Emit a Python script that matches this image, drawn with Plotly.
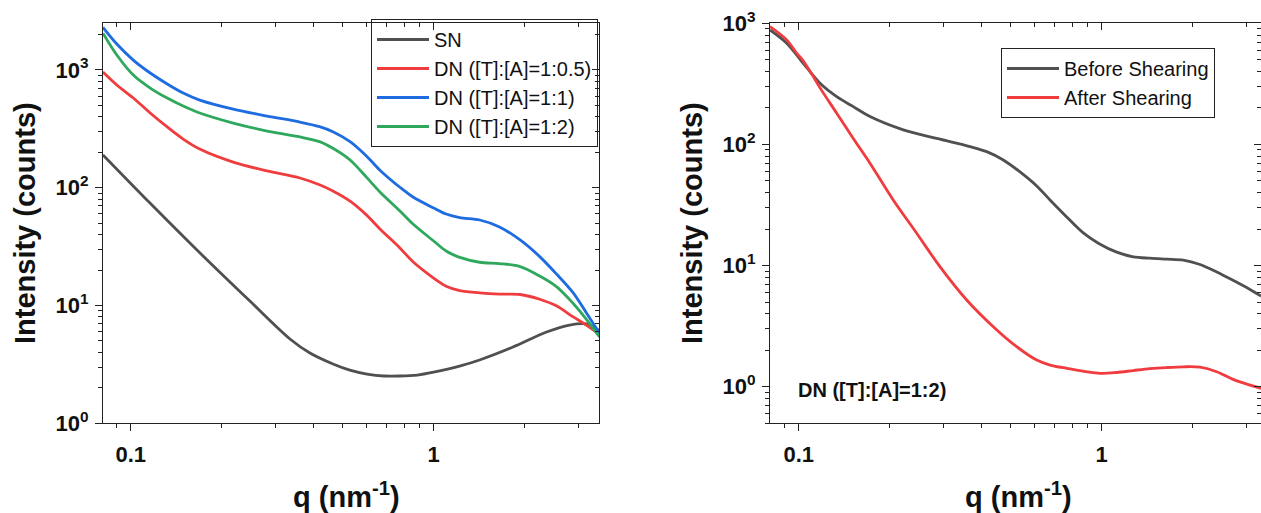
import plotly.graph_objects as go

# ---------------- data ----------------
# Left panel: q (nm^-1) and intensity (counts)
q_sn = [0.081, 0.1158, 0.1694, 0.2475, 0.3356, 0.3906, 0.4653, 0.529, 0.6025, 0.6855, 0.774, 0.8835, 1.0, 1.218, 1.418, 1.828, 2.36, 2.81, 3.2, 3.53]
i_sn = [190, 74.1, 27.9, 10.9, 5.2, 3.95, 3.19, 2.83, 2.62, 2.52, 2.52, 2.57, 2.72, 3.06, 3.45, 4.44, 5.96, 6.83, 6.97, 6.08]

q_dn = [0.081, 0.09, 0.102, 0.116, 0.132, 0.149, 0.169, 0.218, 0.282, 0.362, 0.42, 0.465, 0.53, 0.6, 0.665, 0.774, 0.855, 1.0, 1.1, 1.22, 1.42, 1.65, 1.93, 2.24, 2.55, 2.89, 3.2, 3.53]
i_dn05 = [960, 745, 578, 431, 328, 259, 213, 165, 139, 121, 106, 94, 77, 58.8, 44.7, 30.8, 23.5, 17.1, 14.6, 13.4, 12.8, 12.5, 12.4, 11.3, 9.9, 8.0, 6.8, 5.7]
i_dn1 = [2300, 1660, 1213, 942, 760, 637, 555, 465, 406, 361, 330, 299, 246, 186, 141, 101, 83.4, 67.3, 59.8, 55.8, 53.2, 46.5, 36, 26, 18.4, 12.8, 8.6, 5.8]
i_dn2 = [2050, 1339, 905, 702, 577, 494, 431, 354, 303, 270, 246, 216, 172, 123, 92, 63.5, 49.2, 35.3, 29, 25.6, 23.3, 22.7, 21.4, 17.8, 14.4, 10.4, 7.6, 5.4]

# Right panel
q_before = [0.0804, 0.0913, 0.1035, 0.1176, 0.1335, 0.1514, 0.1719, 0.2215, 0.2853, 0.3674, 0.4173, 0.4733, 0.5375, 0.6103, 0.6752, 0.7665, 0.8695, 0.9745, 1.121, 1.271, 1.443, 1.636, 1.859, 2.111, 2.396, 2.713, 3.086, 3.356]
i_before = [881, 685, 468, 320, 248, 205, 170, 132, 112, 96, 87.2, 74.5, 59.3, 45.4, 34.8, 25.2, 18.6, 15.3, 12.9, 11.8, 11.5, 11.3, 11.1, 10.2, 8.85, 7.55, 6.35, 5.6]

q_after = [0.0804, 0.0913, 0.0985, 0.1035, 0.1117, 0.1176, 0.1335, 0.1514, 0.1719, 0.2051, 0.2451, 0.2925, 0.3584, 0.4387, 0.5241, 0.6103, 0.6752, 0.7665, 0.987, 1.121, 1.271, 1.443, 1.636, 1.859, 2.111, 2.396, 2.713, 3.086, 3.356]
i_after = [940, 730, 566, 490, 363, 293, 181, 112, 70, 34.8, 18.5, 9.8, 5.2, 3.13, 2.14, 1.66, 1.51, 1.42, 1.29, 1.31, 1.36, 1.41, 1.44, 1.46, 1.45, 1.33, 1.15, 1.03, 0.97]

left_names = ["SN", "DN ([T]:[A]=1:0.5)", "DN ([T]:[A]=1:1)", "DN ([T]:[A]=1:2)"]
right_names = ["Before Shearing", "After Shearing"]

x_ticks = [0.1, 1]
x_ticktext = ["0.1", "1"]
y_ticks = [1, 10, 100, 1000]
y_ticktext = ["10<sup>0</sup>", "10<sup>1</sup>", "10<sup>2</sup>", "10<sup>3</sup>"]

# ---------------- style ----------------
GRAY = "#505050"
RED = "#F03C3E"
BLUE = "#1E6CE0"
GREEN = "#2EA85C"
AX = "#222222"
FONT = "Liberation Sans, Arial, sans-serif"

W, H = 1261, 513
def px(x):
    return x / W
def py(y):
    return 1 - y / H

LX = [px(103), px(599.3)]
RX = [px(770), 1.0]
YD = [py(423.3), py(23.3)]

minor_x = [k * 10 ** n for n in (-2, -1, 0) for k in range(2, 10)]
minor_y = [k * 10 ** n for n in (-1, 0, 1, 2, 3) for k in range(2, 10)]

fig = go.Figure()

def add(q, i, name, color, xa, ya, legend):
    fig.add_trace(go.Scatter(x=q, y=i, name=name, mode="lines",
                             line=dict(color=color, width=2.8, shape="spline", smoothing=0.9),
                             xaxis=xa, yaxis=ya, legend=legend))

add(q_sn, i_sn, left_names[0], GRAY, "x", "y", "legend")
add(q_dn, i_dn05, left_names[1], RED, "x", "y", "legend")
add(q_dn, i_dn1, left_names[2], BLUE, "x", "y", "legend")
add(q_dn, i_dn2, left_names[3], GREEN, "x", "y", "legend")
add(q_before, i_before, right_names[0], GRAY, "x2", "y2", "legend2")
add(q_after, i_after, right_names[1], RED, "x2", "y2", "legend2")

# dummy traces for the mirrored (inward-tick) frame axes
for xa, ya in (("x3", "y3"), ("x4", "y4")):
    fig.add_trace(go.Scatter(x=[None], y=[None], xaxis=xa, yaxis=ya,
                             showlegend=False, hoverinfo="skip"))

tickfont = dict(family=FONT, size=22, color="#111", weight="bold")

def main_x(domain, rng, anchor):
    return dict(type="log", domain=domain, range=rng, anchor=anchor, automargin=False,
                showline=True, linecolor=AX, linewidth=1.2, showgrid=False, zeroline=False,
                ticks="outside", ticklen=7, tickwidth=1.2, tickcolor=AX,
                tickmode="array", tickvals=x_ticks, ticktext=x_ticktext,
                tickfont=tickfont, ticklabelstandoff=4,
                minor=dict(ticks="outside", ticklen=4, tickwidth=1, tickcolor=AX,
                           tickmode="array", tickvals=minor_x, showgrid=False))

def main_y(domain, rng, anchor):
    return dict(type="log", domain=domain, range=rng, anchor=anchor, automargin=False,
                showline=True, linecolor=AX, linewidth=1.2, showgrid=False, zeroline=False,
                ticks="outside", ticklen=7, tickwidth=1.2, tickcolor=AX,
                tickmode="array", tickvals=y_ticks, ticktext=y_ticktext,
                tickfont=tickfont, ticklabelstandoff=2,
                minor=dict(ticks="outside", ticklen=4, tickwidth=1, tickcolor=AX,
                           tickmode="array", tickvals=minor_y, showgrid=False))

def top_x(over, rng, anchor):
    return dict(type="log", overlaying=over, side="top", anchor=anchor, range=rng, automargin=False,
                showline=True, linecolor=AX, linewidth=1.2, showgrid=False, zeroline=False,
                ticks="inside", ticklen=7, tickwidth=1.2, tickcolor=AX,
                tickmode="array", tickvals=x_ticks, showticklabels=False,
                minor=dict(ticks="inside", ticklen=4, tickwidth=1, tickcolor=AX,
                           tickmode="array", tickvals=minor_x, showgrid=False))

def right_y(over, rng, anchor):
    return dict(type="log", overlaying=over, side="right", anchor=anchor, range=rng, automargin=False,
                showline=True, linecolor=AX, linewidth=1.2, showgrid=False, zeroline=False,
                ticks="inside", ticklen=7, tickwidth=1.2, tickcolor=AX,
                tickmode="array", tickvals=y_ticks, showticklabels=False,
                minor=dict(ticks="inside", ticklen=4, tickwidth=1, tickcolor=AX,
                           tickmode="array", tickvals=minor_y, showgrid=False))

LXR = [-1.0914, 0.547]
LYR = [0.0, 3.396]
RXR = [-1.0947, 0.5257]
RYR = [-0.302, 3.0]

legfont = dict(family=FONT, size=20, color="#111")

fig.update_layout(
    width=W, height=H,
    margin=dict(l=0, r=0, t=0, b=0, pad=0, autoexpand=False),
    paper_bgcolor="white", plot_bgcolor="white",
    font=dict(family=FONT, color="#111"),
    xaxis=main_x(LX, LXR, "y"),
    yaxis=main_y(YD, LYR, "x"),
    xaxis2=main_x(RX, RXR, "y2"),
    yaxis2=main_y(YD, RYR, "x2"),
    xaxis3=top_x("x", LXR, "y"),
    yaxis3=right_y("y", LYR, "x"),
    xaxis4=top_x("x2", RXR, "y2"),
    yaxis4=right_y("y2", RYR, "x2"),
    legend=dict(x=px(598), y=py(19), xanchor="right", yanchor="top",
                bgcolor="rgba(255,255,255,0)", bordercolor=AX, borderwidth=1,
                font=legfont, itemwidth=52, tracegroupgap=0),
    legend2=dict(x=px(1001), y=py(48), xanchor="left", yanchor="top",
                 bgcolor="rgba(255,255,255,0)", bordercolor=AX, borderwidth=1,
                 font=legfont, itemwidth=52, tracegroupgap=0),
    showlegend=True,
)

titlefont = dict(family=FONT, size=29, color="#111", weight="bold")
ann = [
    dict(text="Intensity (counts)", x=px(25), y=py(223), textangle=-90, font=titlefont),
    dict(text="Intensity (counts)", x=px(692), y=py(223), textangle=-90, font=titlefont),
    dict(text="q (nm<sup>-1</sup>)", x=px(346), y=py(495), font=titlefont),
    dict(text="q (nm<sup>-1</sup>)", x=px(1018), y=py(495), font=titlefont),
    dict(text="DN ([T]:[A]=1:2)", x=px(872), y=py(390),
         font=dict(family=FONT, size=20, color="#111", weight="bold")),
]
for a in ann:
    fig.add_annotation(xref="paper", yref="paper", showarrow=False,
                       xanchor="center", yanchor="middle", **a)

fig.write_html("out.html", config={"displayModeBar": False},
               post_script="document.body.style.margin='0px';document.body.style.overflow='hidden';")
